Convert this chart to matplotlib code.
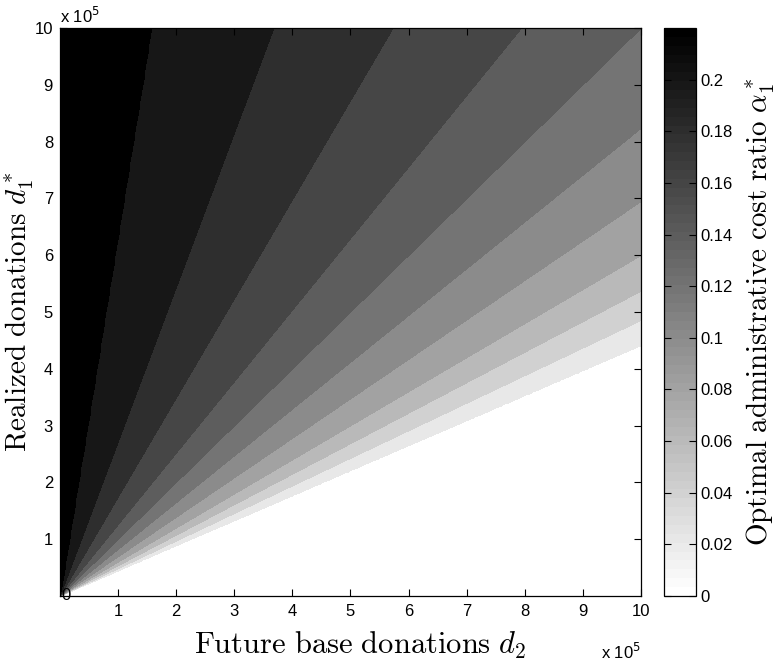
import numpy as np
import matplotlib
matplotlib.use('Agg')
import matplotlib.pyplot as plt
from matplotlib.colors import Normalize
from matplotlib.cm import ScalarMappable

# contour levels of alpha_1* and the slope d2/d1 of each boundary ray
alpha_levels = [0.20, 0.18, 0.16, 0.14, 0.12, 0.10, 0.08, 0.06, 0.04, 0.02, 0.00]
ratio_d2_d1 = [0.157, 0.368, 0.573, 0.794, 1.0, 1.214, 1.439, 1.667, 1.862, 2.06, 2.27]
alpha_top = 0.21      # region above the highest level
alpha_bottom = -0.01  # region below the lowest level
cbar_ticks = [0, 0.02, 0.04, 0.06, 0.08, 0.1, 0.12, 0.14, 0.16, 0.18, 0.2]
cbar_labels = ['0', '0.02', '0.04', '0.06', '0.08', '0.1', '0.12', '0.14', '0.16', '0.18', '0.2']
cbar_max = 0.22
axis_ticks = [1, 2, 3, 4, 5, 6, 7, 8, 9, 10]

plt.rcParams['font.family'] = ['Liberation Sans', 'DejaVu Sans']
plt.rcParams['mathtext.fontset'] = 'cm'

d2 = np.linspace(0, 1e6, 701)
d1 = np.linspace(0, 1e6, 701)
D2, D1 = np.meshgrid(d2, d1)
with np.errstate(divide='ignore', invalid='ignore'):
    q = D2 / D1
alpha = np.interp(q, ratio_d2_d1, alpha_levels, left=alpha_top, right=alpha_bottom)
alpha[np.isnan(q)] = alpha_top

fig = plt.figure(figsize=(7.81, 6.6), dpi=100)
ax = fig.add_axes([0.0768, 0.097, 0.7439, 0.8606])
cax = fig.add_axes([0.8502, 0.097, 0.041, 0.8606])

bounds = [-1] + alpha_levels[::-1] + [1]
colors = [str(v) for v in np.linspace(1, 0, len(bounds) - 1)]
cs = ax.contourf(D2, D1, alpha, levels=bounds, colors=colors)
cs.set_edgecolor('face')
cs.set_linewidth(0.3)

ax.set_xlim(0, 1e6)
ax.set_ylim(0, 1e6)
ax.set_xticks([t * 1e5 for t in axis_ticks])
ax.set_yticks([t * 1e5 for t in axis_ticks])
ax.set_xticklabels([str(t) for t in axis_ticks])
ax.set_yticklabels([str(t) for t in axis_ticks])
ax.tick_params(direction='in', length=5, width=0.8, top=True, right=True,
               labelsize=12, colors='black')
ax.tick_params(axis='x', pad=6)
ax.tick_params(axis='y', pad=5)
for s in ax.spines.values():
    s.set_linewidth(0.9)
ax.text(0.1e5, 0, '0', ha='center', va='center', fontsize=12)

ax.text(0, 1.004, 'x 10$^{5}$', transform=ax.transAxes, ha='left', va='bottom',
        fontsize=12, math_fontfamily='dejavusans')
ax.text(1.0, -0.08, 'x 10$^{5}$', transform=ax.transAxes, ha='right', va='top',
        fontsize=12, math_fontfamily='dejavusans')

ax.set_xlabel(r'$\mathrm{Future\ base\ donations}\ d_2$', fontsize=22)
ax.xaxis.set_label_coords(0.517, -0.060)
ax.set_ylabel(r'$\mathrm{Realized\ donations}\ d_1^*$', fontsize=21)
ax.yaxis.set_label_coords(-0.041, 0.5)

sm = ScalarMappable(norm=Normalize(0, cbar_max), cmap=plt.get_cmap('gray_r', 64))
cb = fig.colorbar(sm, cax=cax, ticks=cbar_ticks)
cb.ax.set_yticklabels(cbar_labels)
cb.outline.set_linewidth(0.9)
cax.tick_params(direction='in', length=5, width=0.8, left=True, right=True,
                labelsize=12, pad=3)
cb.set_label(r'$\mathrm{Optimal\ administrative\ cost\ ratio}\ \alpha_1^*$', fontsize=21)
cax.yaxis.set_label_coords(2.52, 0.5)

fig.savefig('out.png', dpi=100)
